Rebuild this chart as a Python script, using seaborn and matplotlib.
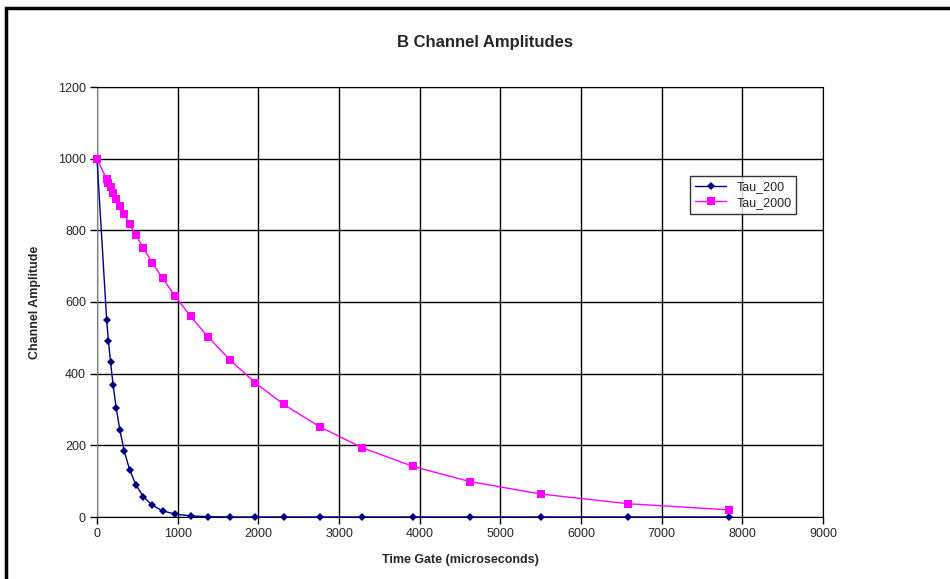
import pandas as pd
import matplotlib.pyplot as plt
import seaborn as sns
from matplotlib.patches import Rectangle

# Time gates (microseconds) and channel amplitudes
time_gate = [0, 120, 142, 168, 200, 238, 284, 338, 404, 482, 574, 684, 814,
             970, 1160, 1376, 1645, 1960, 2316, 2760, 3290, 3920, 4620, 5505,
             6585, 7830]
tau_200 = [1000, 549, 491, 432, 368, 304, 242, 184, 132, 90, 57, 33, 17,
           8, 3, 1, 0, 0, 0, 0, 0, 0, 0, 0, 0, 0]
tau_2000 = [1000, 942, 931, 920, 905, 888, 868, 845, 817, 786, 751, 710, 666,
            616, 560, 503, 439, 375, 314, 252, 193, 141, 99, 64, 37, 20]

series_names = ['Tau_200', 'Tau_2000']
x_ticks = [0, 1000, 2000, 3000, 4000, 5000, 6000, 7000, 8000, 9000]
y_ticks = [0, 200, 400, 600, 800, 1000, 1200]

df = pd.DataFrame({'time': time_gate * 2,
                   'amp': tau_200 + tau_2000,
                   'series': [series_names[0]] * len(time_gate) + [series_names[1]] * len(time_gate)})

sns.set_style('white')
plt.rcParams['font.family'] = ['Liberation Sans', 'DejaVu Sans']

fig = plt.figure(figsize=(9.5, 5.79), dpi=100)
ax = fig.add_axes([97 / 950, 62 / 579, 726 / 950, 430 / 579])

sns.lineplot(data=df, x='time', y='amp', hue='series', style='series',
             palette={'Tau_200': '#000080', 'Tau_2000': '#FF00FF'},
             markers={'Tau_200': 'D', 'Tau_2000': 's'}, dashes=False,
             markersize=5, markeredgewidth=0, linewidth=1, ax=ax)

# diamonds a bit smaller, squares a bit larger, like the original
for line in ax.lines:
    line.set_clip_on(False)
    line.set_zorder(3)
    if line.get_marker() == 'D':
        line.set_markersize(4)
    elif line.get_marker() == 's':
        line.set_markersize(5.5)

ax.set_xlim(0, 9000)
ax.set_ylim(0, 1200)
ax.set_xticks(x_ticks)
ax.set_yticks(y_ticks)
ax.grid(True, color='black', linewidth=1)
ax.set_axisbelow(True)
ax.spines['top'].set_color('black')
ax.spines['right'].set_color('black')
ax.spines['left'].set_color('#808080')
ax.spines['bottom'].set_color('black')
ax.tick_params(axis='both', direction='out', length=5, width=1, labelsize=9,
               color='black', bottom=True, left=True, pad=3)

ax.set_xlabel('Time Gate (microseconds)', fontsize=9, fontweight='bold', labelpad=10)
ax.set_ylabel('Channel Amplitude', fontsize=9, fontweight='bold', labelpad=12)

fig.text(485 / 950, 1 - 42 / 579, 'B Channel Amplitudes', ha='center', va='center',
         fontsize=12, fontweight='bold')

leg = ax.legend(loc='upper left', bbox_to_anchor=(690 / 950, 1 - 176 / 579),
                bbox_transform=fig.transFigure, frameon=True, fancybox=False,
                fontsize=9, handlelength=2.5, borderpad=0.4, labelspacing=0.3,
                borderaxespad=0)
leg.get_frame().set_edgecolor('black')
leg.get_frame().set_linewidth(1)
for h in leg.legend_handles:
    if h.get_marker() == 'D':
        h.set_markersize(4)
    elif h.get_marker() == 's':
        h.set_markersize(5.5)

# outer chart border (only top and left visible in the crop)
fig.patches.append(Rectangle((6 / 950, -0.1), 1.2, 1.1 - 8 / 579,
                             transform=fig.transFigure, fill=False,
                             edgecolor='black', linewidth=2.5))

fig.savefig('out.png', dpi=100)
